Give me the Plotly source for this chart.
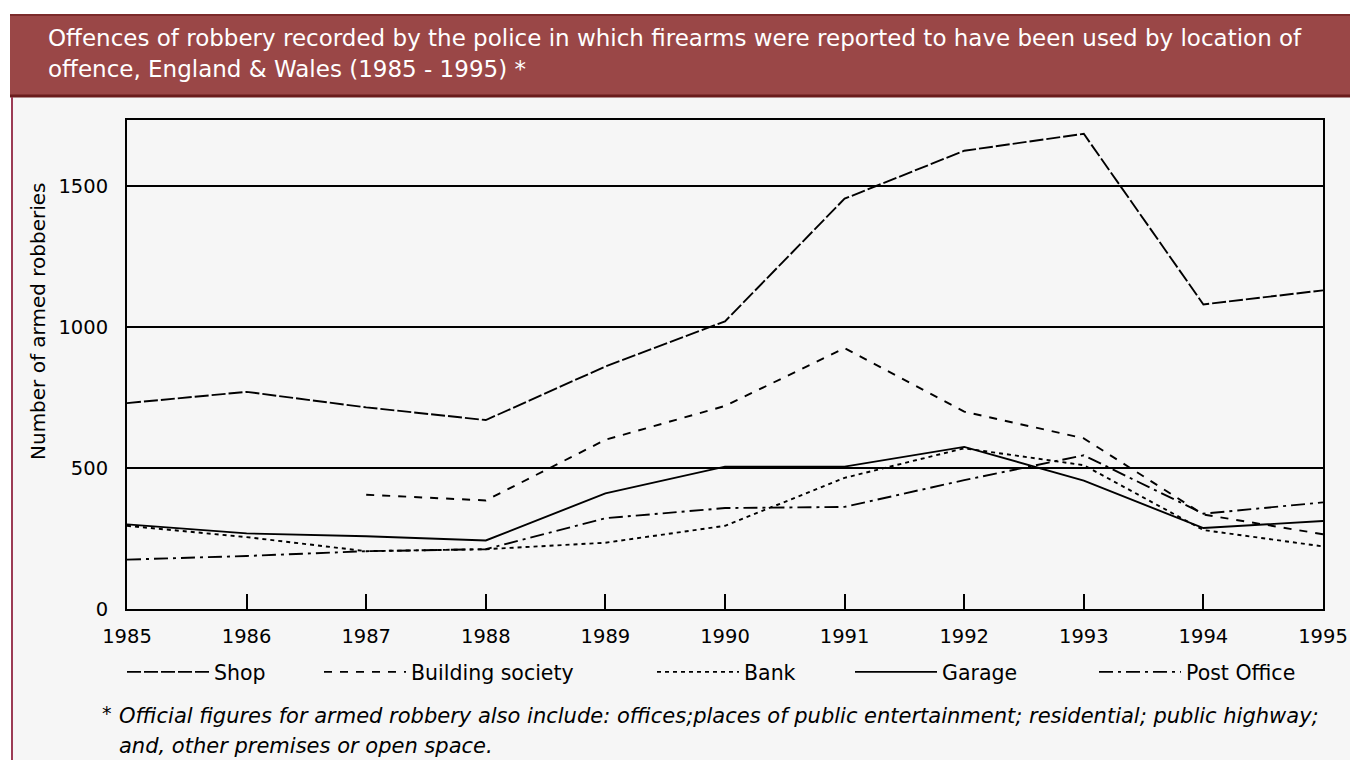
import plotly.graph_objects as go

# ---------------- data ----------------
years = list(range(1985, 1996))
shop = [730, 770, 715, 670, 860, 1020, 1455, 1625, 1685, 1080, 1130]
building_society = [None, None, 405, 385, 600, 720, 925, 700, 605, 335, 265]
bank = [295, 255, 205, 212, 235, 295, 465, 570, 510, 280, 222]
garage = [300, 268, 258, 243, 410, 505, 505, 575, 455, 287, 312]
post_office = [175, 188, 205, 212, 322, 358, 362, 457, 545, 338, 378]

series_names = ["Shop", "Building society", "Bank", "Garage", "Post Office"]
series_values = [shop, building_society, bank, garage, post_office]
y_tick_vals = [0, 500, 1000, 1500]
y_tick_text = ["0", "500", "1000", "1500"]

title_line1 = "Offences of robbery recorded by the police in which firearms were reported to have been used by location of"
title_line2 = "offence, England & Wales (1985 - 1995) *"
footnote_line1 = "Official figures for armed robbery also include: offices;places of public entertainment; residential; public highway;"
footnote_line2 = "and, other premises or open space."
y_title = "Number of armed robberies"

# ---------------- geometry (screen pixels; page body has an 8px margin) ----------------
OFF = 8
W, H = 1358 - OFF, 760 - OFF
L, R, T, B = 127, 1323, 120, 609          # plot area in screen pixels
PW, PH = R - L, B - T

def px(x):
    return (x - L) / PW

def py(y):
    return (B - y) / PH

FONT = "DejaVu Sans"
dashes = ["14px,3px", "8px,8px", "4px,4px", "solid", "14px,5px,3px,5px"]
legend_text_x = [218, 415, 748, 946, 1190]
panel = "#f6f6f6"

fig = go.Figure()
for i, (name, vals) in enumerate(zip(series_names, series_values)):
    fig.add_trace(go.Scatter(
        x=years, y=vals, name=name, mode="lines",
        line=dict(color="black", width=1.9, dash=dashes[i]),
        legend="legend" if i == 0 else f"legend{i+1}",
        connectgaps=False,
    ))

legends = {}
for i, tx in enumerate(legend_text_x):
    key = "legend" if i == 0 else f"legend{i+1}"
    legends[key] = dict(
        x=px(tx - 96), y=py(672), xanchor="left", yanchor="middle",
        orientation="h", itemwidth=82, bgcolor="rgba(0,0,0,0)", borderwidth=0,
        font=dict(family=FONT, size=20.5, color="black"),
    )

shapes = [
    # light panel below the banner
    dict(type="rect", xref="paper", yref="paper", x0=px(12), x1=px(1358),
         y0=py(760), y1=py(97), fillcolor=panel, line=dict(width=0), layer="below"),
    # title banner
    dict(type="rect", xref="paper", yref="paper", x0=px(10), x1=px(1358),
         y0=py(97), y1=py(14), fillcolor="#9a4747", line=dict(width=0), layer="below"),
    dict(type="line", xref="paper", yref="paper", x0=px(10), x1=px(1358),
         y0=py(15), y1=py(15), line=dict(color="#7b2b2b", width=2)),
    dict(type="line", xref="paper", yref="paper", x0=px(10), x1=px(1358),
         y0=py(96), y1=py(96), line=dict(color="#6a1c1c", width=3)),
    # left red rule
    dict(type="line", xref="paper", yref="paper", x0=px(12), x1=px(12),
         y0=py(97), y1=py(760), line=dict(color="#9b3b55", width=2)),
]

annotations = [
    dict(text=title_line1, x=px(46), y=py(38), xref="paper", yref="paper",
         xanchor="left", yanchor="middle", showarrow=False,
         font=dict(family=FONT, size=23, color="white")),
    dict(text=title_line2, x=px(46), y=py(69), xref="paper", yref="paper",
         xanchor="left", yanchor="middle", showarrow=False,
         font=dict(family=FONT, size=23, color="white")),
    dict(text=y_title, x=px(38), y=py(321), xref="paper", yref="paper",
         xanchor="center", yanchor="middle", textangle=-90, showarrow=False,
         font=dict(family=FONT, size=20, color="black")),
    dict(text="*", x=px(100), y=py(713), xref="paper", yref="paper",
         xanchor="left", yanchor="middle", showarrow=False,
         font=dict(family=FONT, size=19, color="black")),
    dict(text=footnote_line1, x=px(117), y=py(716), xref="paper", yref="paper",
         xanchor="left", yanchor="middle", showarrow=False,
         font=dict(family=FONT, size=21, color="black", style="italic")),
    dict(text=footnote_line2, x=px(117), y=py(746), xref="paper", yref="paper",
         xanchor="left", yanchor="middle", showarrow=False,
         font=dict(family=FONT, size=21, color="black", style="italic")),
]

fig.update_layout(
    width=W, height=H,
    margin=dict(l=L - OFF, r=(W + OFF) - R, t=T - OFF, b=(H + OFF) - B, autoexpand=False),
    paper_bgcolor="white", plot_bgcolor=panel,
    showlegend=True,
    shapes=shapes, annotations=annotations,
    font=dict(family=FONT, color="black"),
    **legends,
)

fig.update_xaxes(
    range=[1985, 1995], tickmode="array", tickvals=years,
    ticktext=[str(y) for y in years],
    ticks="inside", ticklen=15, tickwidth=2, tickcolor="black",
    showline=True, linecolor="black", linewidth=2, mirror=True,
    showgrid=False, zeroline=False,
    tickfont=dict(family=FONT, size=19.5, color="black"),
    ticklabelstandoff=9,
)
fig.update_yaxes(
    range=[0, 1734], tickmode="array", tickvals=y_tick_vals, ticktext=y_tick_text,
    ticks="", showline=True, linecolor="black", linewidth=2, mirror=True,
    showgrid=True, gridcolor="black", gridwidth=2, zeroline=False,
    tickfont=dict(family=FONT, size=19.5, color="black"),
    ticklabelstandoff=13,
)

fig.write_html("out.html")
